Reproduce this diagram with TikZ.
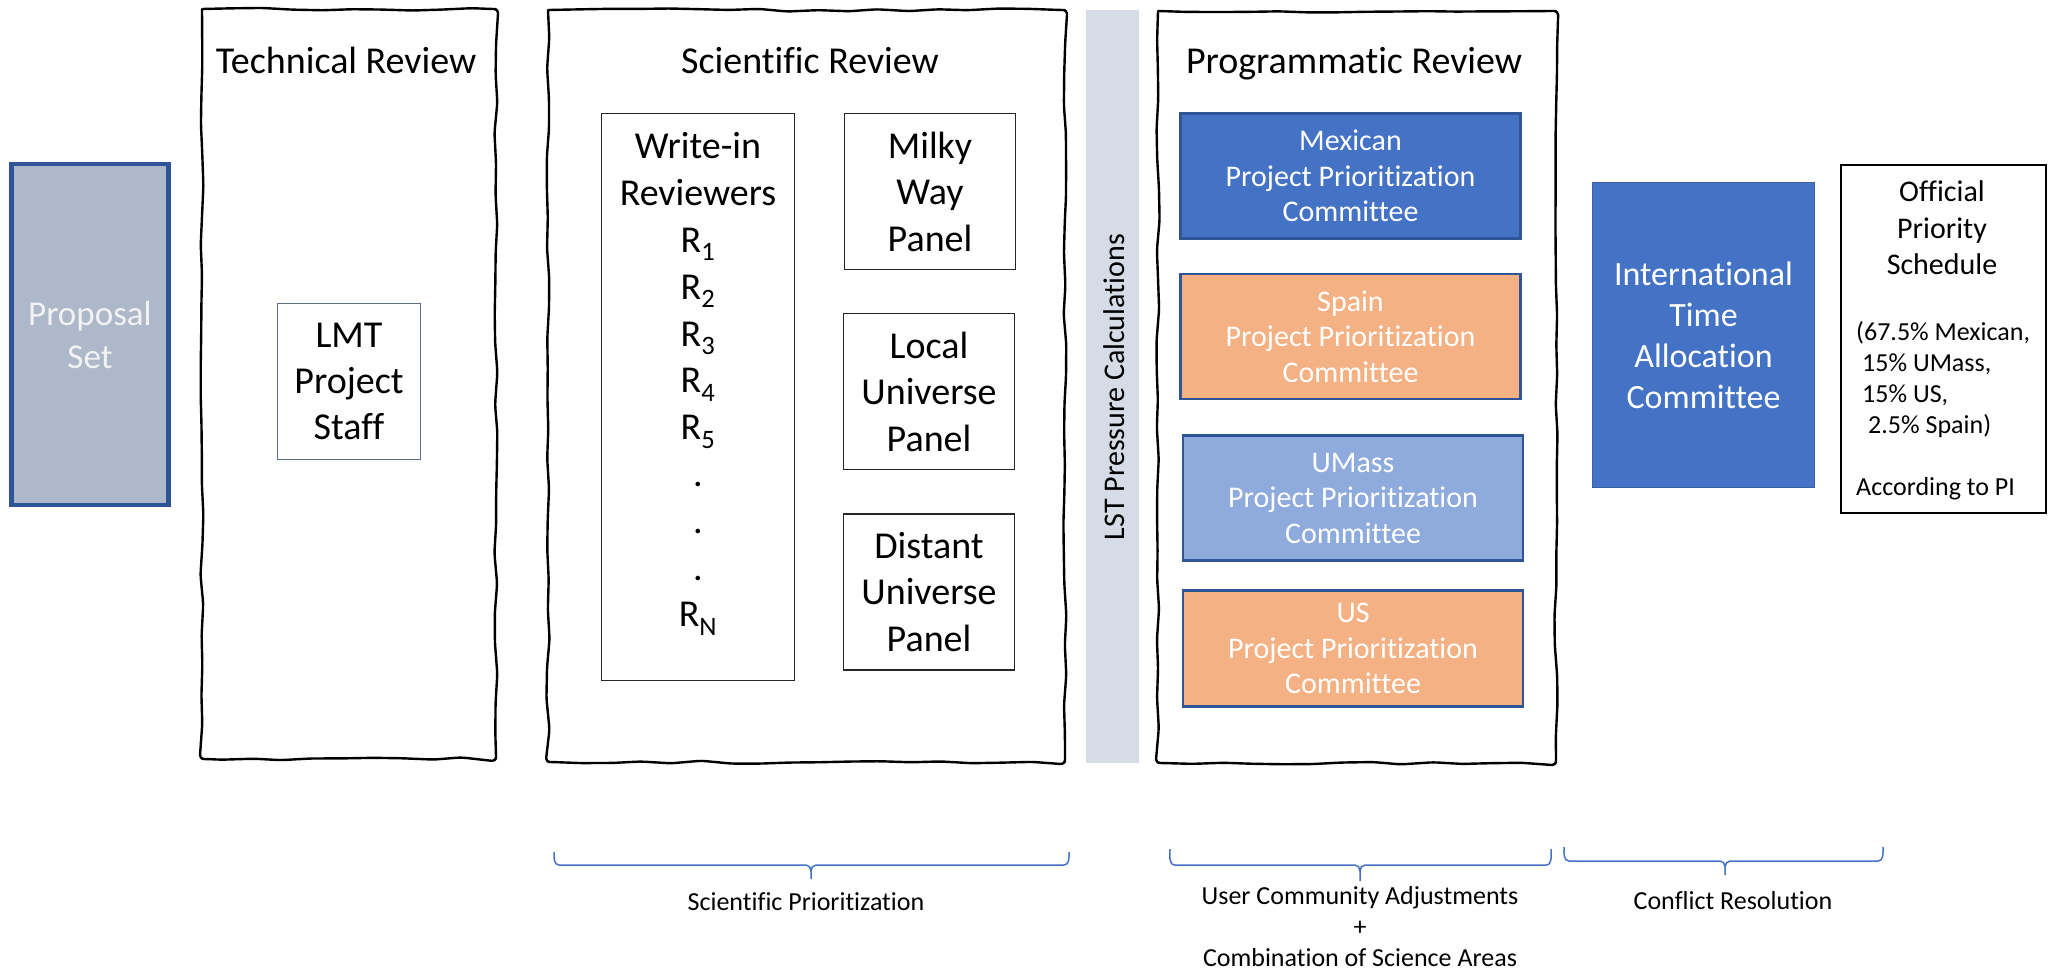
\documentclass[tikz,border=0pt]{standalone}
\usepackage{fontspec}
\setmainfont{Carlito}[Ligatures=NoCommon]
\usetikzlibrary{decorations.pathmorphing}
\definecolor{psfill}{HTML}{ADB9CA}
\definecolor{dkblue}{HTML}{2F5597}
\definecolor{midblue}{HTML}{4472C4}
\definecolor{ltblue}{HTML}{8FAADC}
\definecolor{peach}{HTML}{F4B183}
\definecolor{lstgray}{HTML}{D6DCE5}
\definecolor{lmtedge}{HTML}{5E6F87}
\newcommand{\fsz}[2]{\fontsize{#1}{#2}\selectfont}
\begin{document}
\begin{tikzpicture}[x=1pt,y=-1pt,
 sketch/.style={draw=black,line width=2.4,line cap=round,line join=round,decorate,decoration={random steps,segment length=30,amplitude=1.6},rounded corners=4},
 frame/.style={inner sep=0, outer sep=0},
 ttl/.style={font=\fsz{38}{46}, inner sep=0, anchor=base},
 plainbox/.style={draw=black!85, line width=1.6, align=center, font=\fsz{38}{46.5}, inner sep=0},
 cmt/.style={draw=dkblue, line width=2.2, align=center, text=white, font=\fsz{30}{35.5}, inner sep=0, minimum width=340, minimum height=125},
 brace/.style={draw=midblue, line width=1.5},
 lbl/.style={font=\fsz{26}{31}, inner sep=0, align=center}]
\useasboundingbox (0,0) rectangle (2049,972);
\pgfmathsetseed{3}

% Proposal set
\node[draw=dkblue, line width=4.5, fill=psfill, minimum width=157, minimum height=341,
      text=white!95!black, font=\fsz{35}{43}, align=center] (ps) at (90,334.5) {Proposal\\Set};

% Technical review
\node[frame, minimum width=294, minimum height=750] (tr) at (349,384) {};
\draw[sketch] (tr.north west) -- (tr.north east) -- (tr.south east) -- (tr.south west) -- (tr.north west);
\node[ttl] (trt) at (346,73) {Technical Review};
\node[draw=lmtedge, line width=1.6, minimum width=143, minimum height=156, align=center,
      font=\fsz{38}{46}, inner sep=0] (lmt) at (349,381.5) {LMT\\Project\\Staff};

% Scientific review
\node[frame, minimum width=517, minimum height=752] (sr) at (806.5,386) {};
\draw[sketch] (sr.north west) -- (sr.north east) -- (sr.south east) -- (sr.south west) -- (sr.north west);
\node[ttl] (srt) at (810,73) {Scientific Review};
\node[plainbox, minimum width=193, minimum height=567] (wi) at (698,397) {};
\node[align=center, font=\fsz{38}{46.8}, inner sep=0] (wit) at (698,384)
  {Write-in\\Reviewers\\R\textsubscript{1}\\R\textsubscript{2}\\R\textsubscript{3}\\R\textsubscript{4}\\R\textsubscript{5}\\.\\.\\.\\R\textsubscript{N}};
\node[plainbox, minimum width=171, minimum height=156] (mw) at (930,191.5) {Milky\\Way\\Panel};
\node[plainbox, minimum width=171, minimum height=156] (lu) at (929,391.5) {Local\\Universe\\Panel};
\node[plainbox, minimum width=171, minimum height=156] (du) at (929,592) {Distant\\Universe\\Panel};

% LST bar
\node[fill=lstgray, minimum width=53, minimum height=753, inner sep=0] (lst) at (1112.5,386.5) {};
\node[rotate=90, font=\fsz{30}{36}, inner sep=0] (lstt) at (1114,387) {LST Pressure Calculations};

% Programmatic review
\node[frame, minimum width=398, minimum height=752] (pr) at (1357,387) {};
\draw[sketch] (pr.north west) -- (pr.north east) -- (pr.south east) -- (pr.south west) -- (pr.north west);
\node[ttl] (prt) at (1354,73) {Programmatic Review};
\node[cmt, fill=midblue] (mex) at (1350.5,176) {Mexican\\Project Prioritization\\Committee};
\node[cmt, fill=peach] (spa) at (1350.5,336.5) {Spain\\Project Prioritization\\Committee};
\node[cmt, fill=ltblue] (uma) at (1353,498) {UMass\\Project Prioritization\\Committee};
\node[cmt, fill=peach, minimum height=116] (us) at (1353,648.5) {US\\Project Prioritization\\Committee};

% ITAC
\node[fill=midblue, draw=midblue!85!black, line width=1.5, minimum width=222, minimum height=305,
      text=white, align=center, font=\fsz{34}{41}, inner sep=0] (itac) at (1703.5,335)
      {International\\Time\\Allocation\\Committee};

% Official priority schedule
\node[draw=black, line width=2, minimum width=205, minimum height=348] (ops) at (1943,339) {};
\node[font=\fsz{30}{36.5}, align=center, inner sep=0] (opsh) at (1942,228) {Official\\Priority\\Schedule};
\node[font=\fsz{26}{31}, align=left, inner sep=0, anchor=west] (opsd) at (1856,411)
  {(67.5\% Mexican,\\\hspace*{6pt}15\% UMass,\\\hspace*{6pt}15\% US,\\\hspace*{12pt}2.5\% Spain)\\[31pt]According to PI};

% Braces
\draw[brace] (554,852) to[out=-90,in=180] (559,865) -- (806,865) to[out=0,in=90] (811,871) -- (811,879)
  -- (811,871) to[out=90,in=180] (816,865) -- (1064,865) to[out=0,in=-90] (1069,852);
\draw[brace] (1170,849) to[out=-90,in=180] (1175,865) -- (1355,865) to[out=0,in=90] (1360,871) -- (1360,881)
  -- (1360,871) to[out=90,in=180] (1365,865) -- (1546,865) to[out=0,in=-90] (1551,849);
\draw[brace] (1564,847) to[out=-90,in=180] (1569,861) -- (1720,861) to[out=0,in=90] (1725,867) -- (1725,875)
  -- (1725,867) to[out=90,in=180] (1730,861) -- (1878,861) to[out=0,in=-90] (1883,847);

\node[lbl] (sp) at (806,902) {Scientific Prioritization};
\node[lbl] (uc) at (1360,927) {User Community Adjustments\\+\\Combination of Science Areas};
\node[lbl] (cr) at (1733,901) {Conflict Resolution};
\end{tikzpicture}
\end{document}
